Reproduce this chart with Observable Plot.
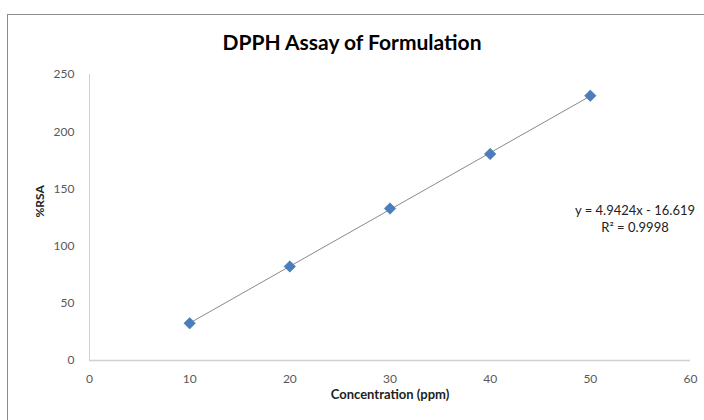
<!DOCTYPE html>
<html>
<head>
<meta charset="utf-8">
<script src="https://cdn.jsdelivr.net/npm/d3@7"></script>
<script src="https://cdn.jsdelivr.net/npm/@observablehq/plot@0.6"></script>
<style>
  html, body { margin: 0; padding: 0; background: #fff; overflow: hidden; }
  #wrap { position: relative; width: 704px; height: 420px; overflow: hidden; font-family: Lato, "Open Sans", sans-serif; }
  #frame { position: absolute; left: 7px; top: 14px; width: 720px; height: 440px; border: 1px solid #8c8c8c; box-sizing: border-box; }
  #title { position: absolute; left: 0; width: 704px; top: 29px; text-align: center; font-size: 21px; font-weight: bold; color: #000; }
  #eq { position: absolute; left: 560px; width: 150px; top: 202px; text-align: center; font-size: 13px; line-height: 17px; color: #222; }
  #chart { position: absolute; left: 0; top: 0; }
</style>
</head>
<body>
<div id="wrap">
  <div id="frame"></div>
  <div id="chart"></div>
  <div id="title">DPPH Assay of Formulation</div>
  <div id="eq">y = 4.9424x - 16.619<br>R² = 0.9998</div>
</div>
<script>
const concentration = [10, 20, 30, 40, 50];
const rsa = [32.6, 82.2, 132.8, 180.6, 231.5];
const xTicks = [0, 10, 20, 30, 40, 50, 60];
const yTicks = [0, 50, 100, 150, 200, 250];

const data = concentration.map((c, i) => ({x: c, y: rsa[i]}));

// Excel-style diamond: a square rotated 45 degrees
const squareDiamond = {
  draw(context, size) {
    const h = Math.sqrt(size) / 2;
    context.moveTo(0, -h);
    context.lineTo(h, 0);
    context.lineTo(0, h);
    context.lineTo(-h, 0);
    context.closePath();
  }
};

const chart = Plot.plot({
  width: 704,
  height: 420,
  marginLeft: 89,
  marginRight: 14,
  marginTop: 74,
  marginBottom: 60,
  style: {fontFamily: "Lato, 'Open Sans', sans-serif", background: "transparent"},
  x: {domain: [0, 60], ticks: xTicks},
  y: {domain: [0, 250], ticks: yTicks},
  marks: [
    Plot.ruleX([0], {stroke: "#d0d0d0", strokeWidth: 1}),
    Plot.ruleY([0], {stroke: "#d0d0d0", strokeWidth: 1.5}),
    Plot.axisX({ticks: xTicks, tickSize: 0, tickPadding: 14, fontSize: 12, fill: "#595959", label: null}),
    Plot.axisY({ticks: yTicks, tickSize: 0, tickPadding: 15, fontSize: 12, fill: "#595959", label: null}),
    Plot.linearRegressionY(data, {x: "x", y: "y", ci: 0, stroke: "#8a8a8a", strokeWidth: 1}),
    Plot.dot(data, {x: "x", y: "y", symbol: squareDiamond, r: 6.5, fill: "#4a7ebb", stroke: "#3d6da8", strokeWidth: 0.5}),
    Plot.text(["Concentration (ppm)"], {frameAnchor: "bottom", dy: 38, fontSize: 13, fontWeight: "bold", fill: "#222"}),
    Plot.text(["%RSA"], {frameAnchor: "left", dx: -49, rotate: -90, fontSize: 12, fontWeight: "bold", fill: "#222"})
  ]
});
document.getElementById("chart").appendChild(chart);
</script>
</body>
</html>
